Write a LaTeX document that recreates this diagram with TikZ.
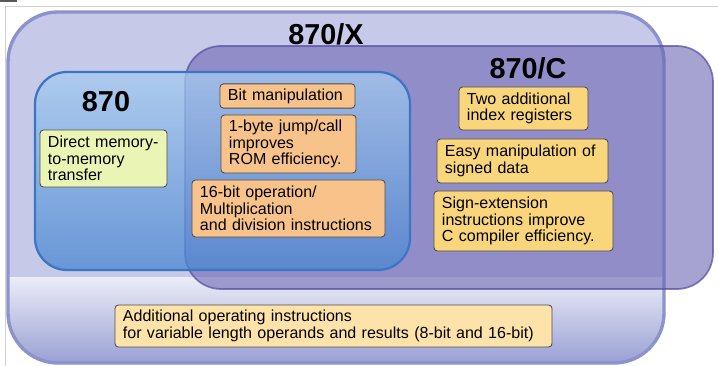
\documentclass[tikz,border=0pt]{standalone}
\usepackage{fontspec}
\setmainfont{Liberation Sans}
\definecolor{setXrim}{HTML}{8C92CC}
\definecolor{setXtop}{HTML}{C6C9E8}
\definecolor{setXmid}{HTML}{EAECF7}
\definecolor{setXbot}{HTML}{9AA0D4}
\definecolor{setCfill}{HTML}{6C66B3}
\definecolor{setCrim}{HTML}{524CA2}
\definecolor{setBtop}{HTML}{A6CCF0}
\definecolor{setBbot}{HTML}{4A86D2}
\definecolor{setBrim}{HTML}{3A76C4}
\definecolor{featBase}{HTML}{EAF5B5}
\definecolor{featX}{HTML}{F8C38B}
\definecolor{featC}{HTML}{F9D57B}
\definecolor{featExt}{HTML}{FDE3AA}

\begin{document}
\begin{tikzpicture}[
  x=0.025cm, y=-0.025cm,
  setxshape/.style={rounded corners=1.25cm},
  setx/.style={setxshape, fill=setXtop},
  setxrim/.style={setxshape, draw=setXrim, line width=2.4pt},
  setc/.style={fill=setCfill, fill opacity=0.6, draw=setCrim, draw opacity=0.7,
               line width=1.2pt, rounded corners=0.9cm},
  setbase/.style={top color=setBtop, bottom color=setBbot, fill opacity=0.75,
                  draw=setBrim, line width=1.6pt, rounded corners=0.8cm},
  setname/.style={font=\fontsize{20.5}{22}\selectfont\bfseries, inner sep=0pt},
  feat/.style={draw=black!70, line width=0.6pt, rounded corners=2.5pt, inner xsep=0.2cm,
               align=left, font=\fontsize{11.4}{11.6}\selectfont},
  basefeat/.style={feat, fill=featBase},
  xfeat/.style={feat, fill=featX},
  cfeat/.style={feat, fill=featC},
  extfeat/.style={feat, fill=featExt}
]
\useasboundingbox (0,0) rectangle (718,366);
\fill[white] (0,0) rectangle (718,366);
% page frame
\draw[black!18, line width=0.6pt] (718,6) -- (5,6) -- (5,366);
\fill[black!65] (0,0) rectangle (17,2);

% nested instruction sets
\path[setx] (8,12) rectangle (664,363);
\begin{scope}
  \clip[setxshape] (8,12) rectangle (664,363);
  \fill[top color=setXmid, bottom color=setXbot] (8,278) rectangle (664,363);
\end{scope}
\path[setxrim] (8,12) rectangle (664,363);
\path[setc] (185,46) rectangle (713,289);
\path[setbase] (35,72) rectangle (410,270);

\node[setname] (nameX) at (326,34) {870/X};
\node[setname] (nameC) at (528,68) {870/C};
\node[setname] (nameB) at (106,102) {870};

% 870
\node[basefeat, text width=2.775cm, minimum height=1.425cm] (direct) at (103.5,158.5)
  {Direct~memory-\\to-memory\\transfer};
% 870/X
\node[xfeat, text width=2.975cm, minimum height=0.6cm] (bitop) at (287.5,96) {Bit manipulation};
\node[xfeat, text width=2.975cm, minimum height=1.45cm] (jump) at (288.5,144)
  {1-byte jump/call\\improves\\ROM efficiency.};
\node[xfeat, text width=4.425cm, minimum height=1.425cm] (mult) at (288.5,208.5)
  {16-bit operation/\\Multiplication\\and division~instructions};
% 870/C
\node[cfeat, text width=2.825cm, minimum height=1.075cm] (index) at (523.5,108.5)
  {Two additional\\index registers};
\node[cfeat, text width=3.875cm, minimum height=1.1cm] (signed) at (522.5,161)
  {Easy manipulation of\\signed data};
\node[cfeat, text width=4.075cm, minimum height=1.5cm] (sext) at (523.5,221)
  {Sign-extension\\instructions improve\\C compiler efficiency.};
% shared
\node[extfeat, text width=10.525cm, minimum height=1.05cm] (varlen) at (333.5,326)
  {Additional operating instructions\\for variable length operands and results (8-bit and 16-bit)};
\end{tikzpicture}
\end{document}
